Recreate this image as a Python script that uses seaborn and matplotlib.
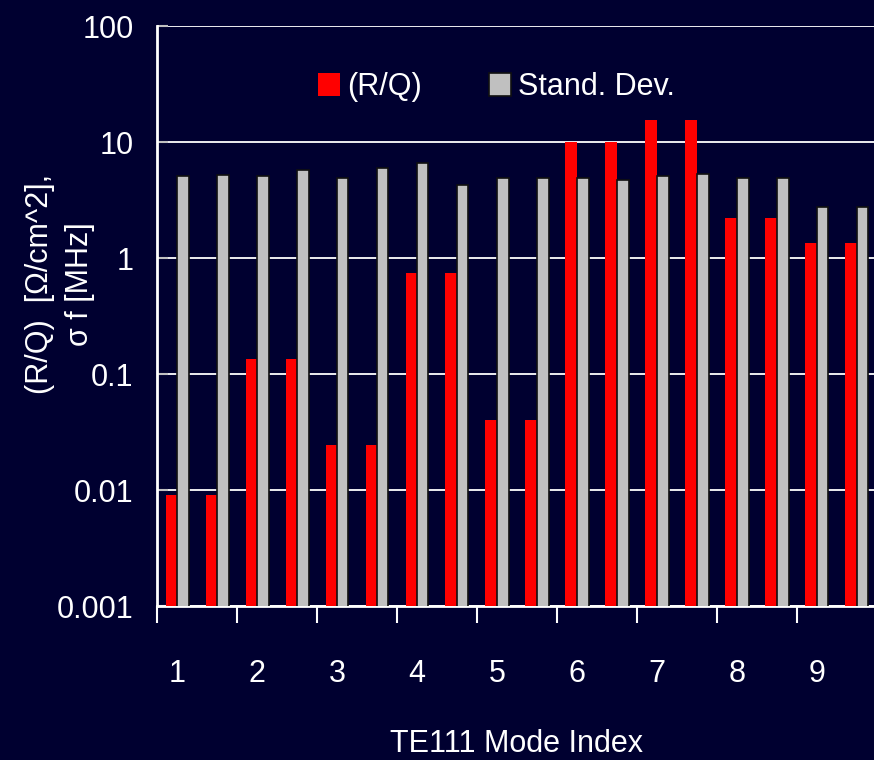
import matplotlib
matplotlib.use("Agg")
import matplotlib.pyplot as plt
import seaborn as sns
import pandas as pd
import numpy as np
from matplotlib.ticker import FixedLocator, NullFormatter, FixedFormatter

# ---- data ----
mode_labels = ["1", "2", "3", "4", "5", "6", "7", "8", "9"]
categories = [f"{m}{p}" for m in mode_labels for p in ("a", "b")]
rq_values = [0.009, 0.009, 0.135, 0.135, 0.0244, 0.0244, 0.74, 0.74, 0.040, 0.040,
             10.0, 10.0, 15.5, 15.5, 2.21, 2.21, 1.35, 1.35]
sd_values = [5.09, 5.22, 5.06, 5.77, 4.92, 5.93, 6.55, 4.23, 4.92, 4.94,
             4.94, 4.68, 5.09, 5.30, 4.94, 4.94, 2.75, 2.75]
series_names = ["(R/Q)", "Stand. Dev."]
y_ticks = [0.001, 0.01, 0.1, 1, 10, 100]
y_tick_labels = ["0.001", "0.01", "0.1", "1", "10", "100"]

df = pd.DataFrame({
    "cat": categories * 2,
    "value": rq_values + sd_values,
    "series": [series_names[0]] * len(categories) + [series_names[1]] * len(categories),
})

BG = "#000030"
sns.set_theme(style="white")
plt.rcParams["font.family"] = ["Liberation Sans Narrow", "Liberation Sans", "DejaVu Sans"]

fig = plt.figure(figsize=(8.74, 7.6), dpi=100, facecolor=BG)
ax = fig.add_axes([157 / 874, 1 - 606 / 760, 720 / 874, 580 / 760])
ax.set_facecolor(BG)
ax.set_yscale("log")

sns.barplot(data=df, x="cat", y="value", hue="series", order=categories,
            hue_order=series_names, palette=["#FF0000", "#C0C0C0"],
            width=0.575, gap=0, saturation=1, ax=ax, zorder=3)

for p in ax.patches:
    fc = p.get_facecolor()
    if fc[1] > 0.5:
        p.set_edgecolor("#101010")
        p.set_linewidth(1.2)
    else:
        p.set_linewidth(0)

ax.set_ylim(0.001, 100)
ax.set_xlim(-0.5, len(categories) - 0.5)

# grid
ax.yaxis.grid(True, color="white", linewidth=1.3, zorder=0)
ax.set_axisbelow(True)
ax.xaxis.grid(False)

# y ticks
ax.yaxis.set_major_locator(FixedLocator(y_ticks))
ax.yaxis.set_major_formatter(FixedFormatter(y_tick_labels))
ax.yaxis.set_minor_locator(FixedLocator([]))
ax.tick_params(axis="y", which="major", direction="in", length=8, width=1.5,
               color="#C0C0C0", labelsize=22, labelcolor="white", pad=17, left=True)

# x ticks: boundaries (marks) and labels on every other category
bounds = [-0.5 + 2 * i for i in range(len(mode_labels) + 1)]
label_pos = [2 * i for i in range(len(mode_labels))]
ax.xaxis.set_major_locator(FixedLocator(bounds))
ax.xaxis.set_major_formatter(NullFormatter())
ax.xaxis.set_minor_locator(FixedLocator(label_pos))
ax.xaxis.set_minor_formatter(FixedFormatter(mode_labels))
ax.tick_params(axis="x", which="major", direction="out", length=12, width=1.5,
               color="white", bottom=True)
ax.tick_params(axis="x", which="minor", length=0, labelsize=22, labelcolor="white",
               pad=38, bottom=True)

for s in ["top", "right"]:
    ax.spines[s].set_visible(False)
for s in ["left", "bottom"]:
    ax.spines[s].set_color("white")
    ax.spines[s].set_linewidth(2)

ax.set_xlabel("TE111 Mode Index", color="white", fontsize=22, labelpad=29)
ax.set_ylabel("(R/Q)  [\u03a9/cm^2],\n\u03c3 f [MHz]", color="white", fontsize=22,
              linespacing=1.45)
ax.yaxis.set_label_coords((95 - 157) / 720, 0.555)

handles, labels = ax.get_legend_handles_labels()
leg = ax.legend(handles, labels, loc="center", bbox_to_anchor=(0.472, 0.895),
                ncol=2, frameon=False, fontsize=22, handlelength=0.7,
                handleheight=0.8, handletextpad=0.25, columnspacing=2.2,
                labelcolor="white")

fig.savefig("out.png", dpi=100, facecolor=BG)
